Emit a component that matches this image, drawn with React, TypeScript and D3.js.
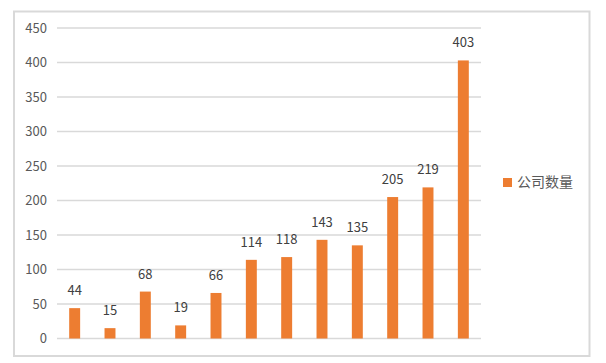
import { useRef, useEffect } from "react"
import * as d3 from "d3"

const categories = ["1", "2", "3", "4", "5", "6", "7", "8", "9", "10", "11", "12"]
const counts = [44, 15, 68, 19, 66, 114, 118, 143, 135, 205, 219, 403]
const yTicks = [0, 50, 100, 150, 200, 250, 300, 350, 400, 450]
const seriesName = "公司数量"

const width = 606
const height = 363
const font = "'Noto Sans CJK SC', 'Noto Sans', sans-serif"
const orange = "#ED7D31"

export default function App() {
  const svgRef = useRef<SVGSVGElement>(null)

  useEffect(() => {
    if (!svgRef.current) return
    const svg = d3.select(svgRef.current)
    svg.selectAll("*").remove()

    // outer frame
    svg
      .append("rect")
      .attr("x", 14)
      .attr("y", 11.5)
      .attr("width", 575.5)
      .attr("height", 344.5)
      .attr("fill", "#fff")
      .attr("stroke", "#d9d9d9")
      .attr("stroke-width", 2)

    const x = d3.scaleBand<string>().domain(categories).range([57, 481]).paddingInner(0.69).paddingOuter(0.345)
    const y = d3.scaleLinear().domain([0, 450]).range([338.5, 28])

    // gridlines
    svg
      .append("g")
      .selectAll("line")
      .data(yTicks)
      .join("line")
      .attr("x1", 57)
      .attr("x2", 481)
      .attr("y1", (d) => y(d))
      .attr("y2", (d) => y(d))
      .attr("stroke", "#d9d9d9")
      .attr("stroke-width", 1.5)

    // y tick labels
    svg
      .append("g")
      .selectAll("text")
      .data(yTicks)
      .join("text")
      .attr("x", 47)
      .attr("y", (d) => y(d))
      .attr("dy", "0.35em")
      .attr("text-anchor", "end")
      .attr("font-family", font)
      .attr("font-size", 13)
      .attr("fill", "#595959")
      .text((d) => d)

    // bars
    svg
      .append("g")
      .selectAll("rect")
      .data(counts)
      .join("rect")
      .attr("x", (_, i) => x(categories[i])!)
      .attr("width", x.bandwidth())
      .attr("y", (d) => y(d))
      .attr("height", (d) => y(0) - y(d))
      .attr("fill", orange)

    // value labels
    svg
      .append("g")
      .selectAll("text")
      .data(counts)
      .join("text")
      .attr("x", (_, i) => x(categories[i])! + x.bandwidth() / 2)
      .attr("y", (d) => y(d) - 13)
      .attr("text-anchor", "middle")
      .attr("font-family", font)
      .attr("font-size", 13)
      .attr("fill", "#404040")
      .text((d) => d)

    // legend
    const legend = svg.append("g").attr("transform", "translate(503,178)")
    legend.append("rect").attr("width", 9).attr("height", 9).attr("fill", orange)
    legend
      .append("text")
      .attr("x", 14)
      .attr("y", 4.5)
      .attr("dy", "0.35em")
      .attr("font-family", font)
      .attr("font-size", 14)
      .attr("fill", "#595959")
      .text(seriesName)
  }, [])

  return (
    <svg
      ref={svgRef}
      width={width}
      height={height}
      viewBox={`0 0 ${width} ${height}`}
      style={{ position: "absolute", left: 0, top: 0, display: "block" }}
    />
  )
}
